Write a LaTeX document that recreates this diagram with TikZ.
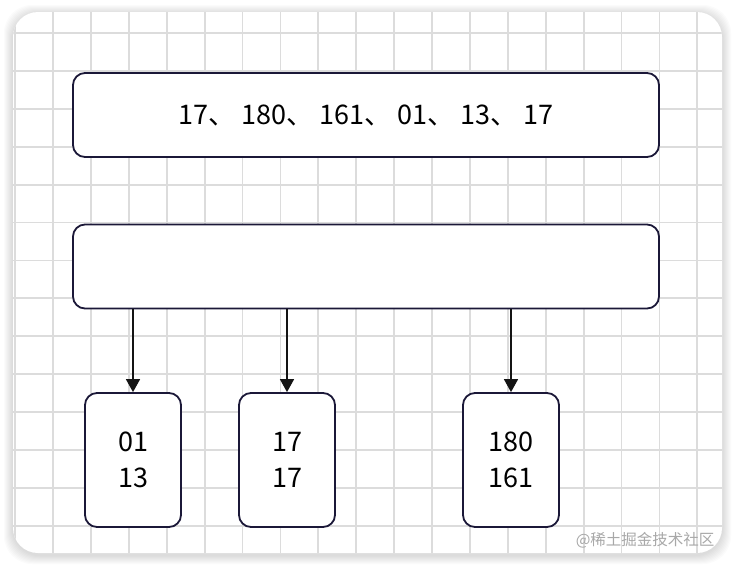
\documentclass[tikz,border=0pt]{standalone}
\usepackage{fontspec}
\setmainfont{Noto Sans CJK SC}
\usetikzlibrary{arrows.meta}
\definecolor{boxline}{HTML}{1B1838}
\definecolor{gridc}{HTML}{DCDCDC}
\definecolor{wmark}{HTML}{A8A8A8}
\tikzset{
  box/.style={draw=boxline, line width=1.8pt, fill=white, rounded corners=12pt, inner sep=0pt, font=\fontsize{27}{36}\selectfont, align=center},
  bigbox/.style={box, minimum width=586pt, minimum height=84pt},
  smallbox/.style={box, minimum width=96pt, minimum height=134pt},
  link/.style={draw=black!92, line width=1.5pt, -{Triangle[length=13pt,width=14pt]}},
}
\begin{document}
\begin{tikzpicture}[x=1pt,y=-1pt]
\useasboundingbox (0,0) rectangle (734,566);
% shadow
\foreach \i in {1,...,9}{
  \fill[black, opacity=0.016, rounded corners=28pt] (13-\i,12-\i+2) rectangle (722+\i,553+\i+2);
}
\fill[white, rounded corners=25pt] (13,12) rectangle (722,553);
\begin{scope}
\clip[rounded corners=25pt] (13,12) rectangle (722,553);
\foreach \k in {0,...,18}{
  \draw[gridc, line width=1.8pt] (15.1+37.9*\k,0) -- (15.1+37.9*\k,566);
}
\foreach \k in {0,...,13}{
  \draw[gridc, line width=1.8pt] (0,33+37.9*\k) -- (734,33+37.9*\k);
}
\node[wmark, font=\fontsize{15.5}{18}\selectfont, anchor=east] (wm) at (718,540) {@稀土掘金技术社区};
\end{scope}
\node[bigbox] (top) at (366,115) {17、 180、 161、 01、 13、 17};
\node[bigbox] (mid) at (366,266.5) {};
\node[smallbox] (b1) at (133,460) {01\\13};
\node[smallbox] (b2) at (287,460) {17\\17};
\node[smallbox] (b3) at (511,460) {180\\161};
\draw[link] (mid.south -| b1.north) -- (b1.north);
\draw[link] (mid.south -| b2.north) -- (b2.north);
\draw[link] (mid.south -| b3.north) -- (b3.north);
\end{tikzpicture}
\end{document}
